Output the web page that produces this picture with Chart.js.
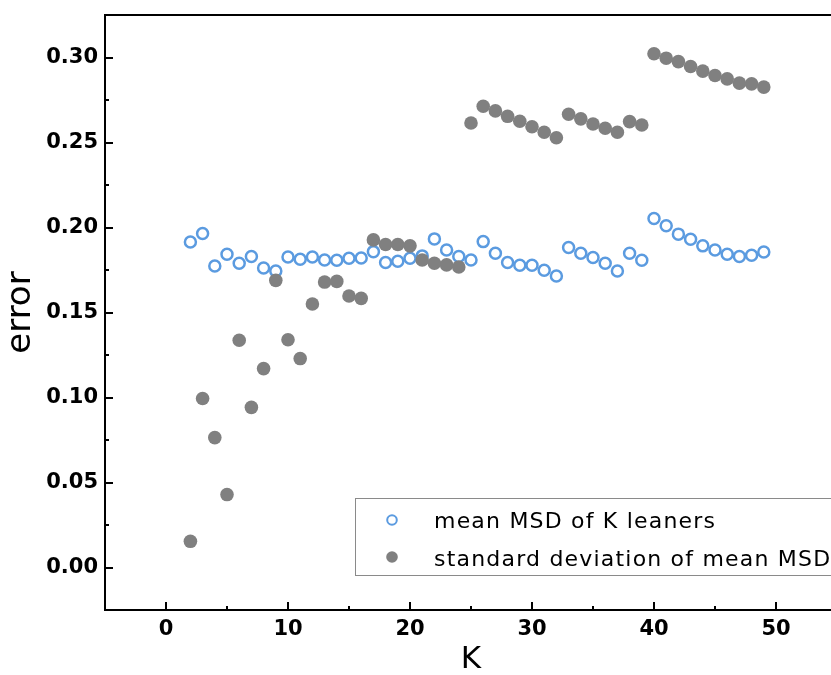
<!DOCTYPE html>
<html>
<head>
<meta charset="utf-8">
<title>error vs K</title>
<script src="https://cdn.jsdelivr.net/npm/chart.js@4.4.1/dist/chart.umd.min.js"></script>
<style>
  html, body { margin: 0; padding: 0; background: #fff; overflow: hidden; }
  #wrap { position: relative; width: 831px; height: 675px; overflow: hidden; }
</style>
</head>
<body>
<div id="wrap"><canvas id="errChart" width="845" height="675"></canvas></div>
<script>
// data
const kValues = [2, 3, 4, 5, 6, 7, 8, 9, 10, 11, 12, 13, 14, 15, 16, 17, 18, 19, 20, 21, 22, 23, 24, 25,
                 26, 27, 28, 29, 30, 31, 32, 33, 34, 35, 36, 37, 38, 39, 40, 41, 42, 43, 44, 45, 46, 47, 48, 49];

const meanMSD = [0.1915, 0.1965, 0.1774, 0.1843, 0.1790, 0.1829, 0.1762, 0.1744, 0.1827, 0.1813, 0.1827, 0.1809,
                 0.1807, 0.1819, 0.1821, 0.1858, 0.1794, 0.1801, 0.1819, 0.1833, 0.1933, 0.1868, 0.1829, 0.1809,
                 0.1917, 0.1848, 0.1794, 0.1778, 0.1778, 0.1748, 0.1715, 0.1882, 0.1848, 0.1823, 0.1790, 0.1744,
                 0.1848, 0.1807, 0.2053, 0.2010, 0.1961, 0.1931, 0.1892, 0.1868, 0.1843, 0.1829, 0.1837, 0.1856];

const stdMSD = [0.0154, 0.0994, 0.0764, 0.0429, 0.1337, 0.0942, 0.1170, 0.1689, 0.1340, 0.1229, 0.1550, 0.1679,
                0.1683, 0.1597, 0.1583, 0.1927, 0.1900, 0.1900, 0.1892, 0.1809, 0.1790, 0.1780, 0.1768, 0.2615,
                0.2713, 0.2686, 0.2654, 0.2625, 0.2593, 0.2560, 0.2528, 0.2666, 0.2639, 0.2609, 0.2584, 0.2560,
                0.2623, 0.2603, 0.3022, 0.2996, 0.2976, 0.2947, 0.2920, 0.2894, 0.2874, 0.2849, 0.2845, 0.2826];

const xTickLabels = ['0', '10', '20', '30', '40', '50'];
const yTickLabels = ['0.00', '0.05', '0.10', '0.15', '0.20', '0.25', '0.30'];

const seriesNames = ['mean MSD of K leaners', 'standard deviation of mean MSD'];

const BLUE = '#5b9be0';
const GREY = '#808080';
const FONT = '"DejaVu Sans", "Open Sans", sans-serif';

function labelFor(v, labels) {
    for (const l of labels) {
        if (Math.abs(parseFloat(l) - v) < 1e-6) return l;
    }
    return '';
}

// axis frame + inward tick marks (like Origin)
const framePlugin = {
    id: 'frame',
    afterDatasetsDraw(chart) {
        const { ctx, chartArea: a, scales } = chart;
        ctx.save();
        ctx.strokeStyle = '#000';
        ctx.lineWidth = 2;
        ctx.beginPath();
        ctx.moveTo(a.left, a.top);
        ctx.lineTo(a.right + 5, a.top);
        ctx.moveTo(a.left, a.top - 1);
        ctx.lineTo(a.left, a.bottom + 1);
        ctx.moveTo(a.left - 1, a.bottom);
        ctx.lineTo(a.right + 5, a.bottom);

        scales.x.ticks.forEach(t => {
            const px = Math.round(scales.x.getPixelForValue(t.value));
            const len = labelFor(t.value, xTickLabels) ? 8 : 4;
            ctx.moveTo(px, a.bottom);
            ctx.lineTo(px, a.bottom - len);
        });
        scales.y.ticks.forEach(t => {
            const py = Math.round(scales.y.getPixelForValue(t.value));
            const len = labelFor(t.value, yTickLabels) ? 8 : 4;
            ctx.moveTo(a.left, py);
            ctx.lineTo(a.left + len, py);
        });
        ctx.stroke();
        ctx.restore();
    }
};

// boxed legend inside the plot, lower right
const legendBox = {
    id: 'legendBox',
    afterDraw(chart) {
        const { ctx } = chart;
        const ds = chart.data.datasets;
        ctx.save();
        ctx.strokeStyle = '#8a8a8a';
        ctx.lineWidth = 1;
        ctx.strokeRect(355.5, 498.5, 520, 77);

        ctx.beginPath();
        ctx.arc(392, 520, 4.8, 0, Math.PI * 2);
        ctx.lineWidth = 2;
        ctx.strokeStyle = BLUE;
        ctx.stroke();

        ctx.beginPath();
        ctx.arc(392, 557, 5.8, 0, Math.PI * 2);
        ctx.fillStyle = GREY;
        ctx.fill();

        ctx.fillStyle = '#000';
        ctx.font = '22px ' + FONT;
        ctx.textBaseline = 'alphabetic';
        ctx.textAlign = 'left';
        if ('letterSpacing' in ctx) ctx.letterSpacing = '1.2px';
        ctx.fillText(ds[0].label, 434, 528);
        ctx.fillText(ds[1].label, 434, 566);
        ctx.restore();
    }
};

const ctx = document.getElementById('errChart').getContext('2d');
new Chart(ctx, {
    type: 'scatter',
    data: {
        datasets: [{
            label: seriesNames[0],
            data: kValues.map((k, i) => ({ x: k, y: meanMSD[i] })),
            pointStyle: 'circle',
            pointRadius: 5.5,
            pointBorderWidth: 2.5,
            pointBackgroundColor: 'rgba(255,255,255,0)',
            pointBorderColor: BLUE,
            order: 2
        }, {
            label: seriesNames[1],
            data: kValues.map((k, i) => ({ x: k, y: stdMSD[i] })),
            pointStyle: 'circle',
            pointRadius: 6.8,
            pointBorderWidth: 0,
            pointBackgroundColor: GREY,
            pointBorderColor: GREY,
            order: 1
        }]
    },
    options: {
        responsive: false,
        animation: false,
        events: [],
        layout: { padding: { top: 15, left: 0, right: 3, bottom: 0 } },
        plugins: {
            legend: { display: false },
            tooltip: { enabled: false }
        },
        scales: {
            x: {
                type: 'linear',
                min: -5,
                max: 55,
                grid: { display: false, drawTicks: false },
                border: { display: false },
                afterFit(s) {
                    s.height = 65;
                    s.paddingLeft = 0;
                    s.paddingRight = 0;
                },
                ticks: {
                    stepSize: 5,
                    includeBounds: false,
                    autoSkip: false,
                    maxRotation: 0,
                    padding: 7,
                    color: '#000',
                    font: { family: FONT, size: 21, weight: 'bold' },
                    callback: v => labelFor(v, xTickLabels)
                },
                title: {
                    display: true,
                    text: 'K',
                    color: '#000',
                    padding: 0,
                    font: { family: FONT, size: 31, lineHeight: 1 }
                }
            },
            y: {
                type: 'linear',
                min: -0.025,
                max: 0.325,
                grid: { display: false, drawTicks: false },
                border: { display: false },
                afterFit(s) {
                    s.width = 105;
                    s.paddingTop = 0;
                    s.paddingBottom = 0;
                },
                ticks: {
                    stepSize: 0.025,
                    includeBounds: false,
                    autoSkip: false,
                    padding: 7,
                    color: '#000',
                    font: { family: FONT, size: 21, weight: 'bold' },
                    callback: v => labelFor(v, yTickLabels)
                },
                title: {
                    display: true,
                    text: 'error',
                    color: '#000',
                    padding: { top: 4, bottom: 0 },
                    font: { family: FONT, size: 34, lineHeight: 1 }
                }
            }
        }
    },
    plugins: [framePlugin, legendBox]
});
</script>
</body>
</html>
